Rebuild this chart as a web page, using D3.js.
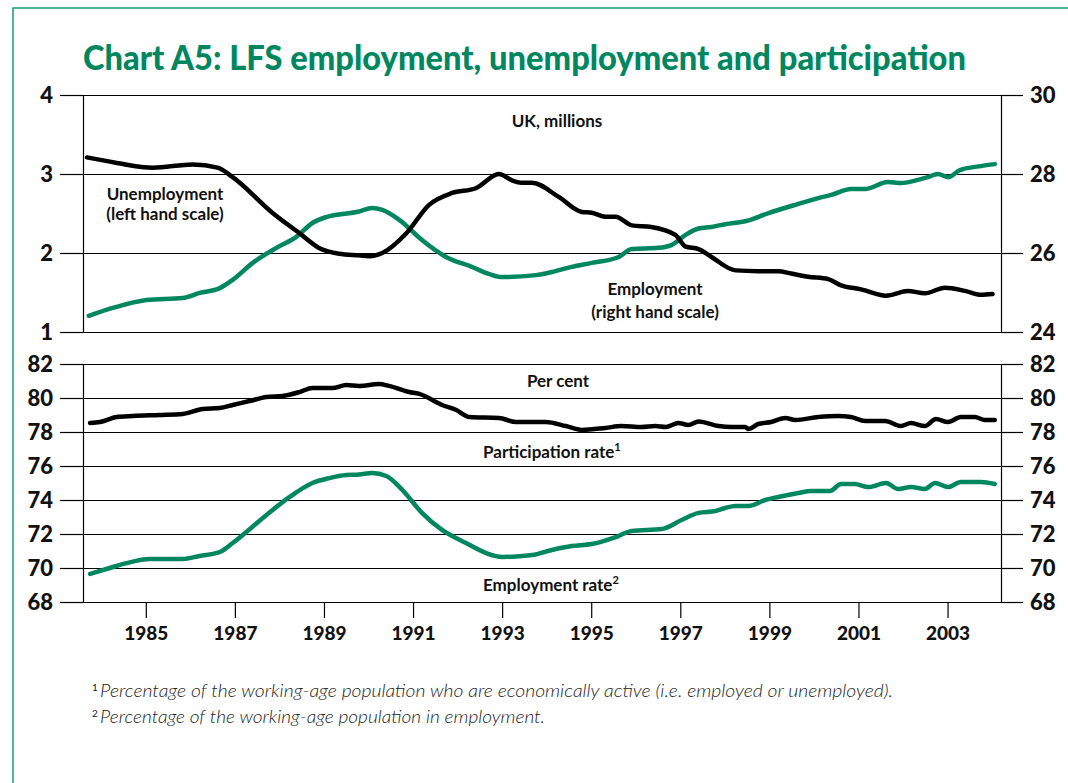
<!DOCTYPE html>
<html>
<head>
<meta charset="utf-8">
<script src="https://cdn.jsdelivr.net/npm/d3@7"></script>
<style>
  body { margin: 0; background: #fff; }
  svg { display: block; }
</style>
</head>
<body>
<script>
// DATA (decimal years)
const unempDates = [1983.68,1984.35,1985.16,1986.05,1986.61,1986.95,1987.84,1988.45,1988.90,1989.34,1989.79,1990.02,1990.31,1990.85,1991.36,1991.88,1992.41,1992.93,1993.22,1993.44,1993.67,1994.27,1994.79,1995.01,1995.32,1995.55,1995.91,1996.35,1996.89,1997.12,1997.41,1997.70,1998.24,1998.75,1999.20,1999.49,1999.87,2000.32,2000.61,2001.06,2001.62,2002.11,2002.49,2002.94,2003.39,2003.75,2004.01];
const unemployment = [3.21,3.14,3.08,3.12,3.08,2.96,2.51,2.25,2.06,1.99,1.97,1.96,2.00,2.25,2.61,2.76,2.82,3.00,2.92,2.89,2.89,2.71,2.52,2.51,2.46,2.46,2.35,2.33,2.23,2.08,2.05,1.95,1.78,1.77,1.77,1.74,1.70,1.67,1.59,1.54,1.46,1.52,1.49,1.56,1.52,1.47,1.48];

const empDates = [1983.72,1984.26,1985.02,1985.83,1986.21,1986.66,1986.95,1987.40,1987.93,1988.38,1988.74,1989.05,1989.79,1990.08,1990.31,1990.69,1991.20,1991.74,1992.32,1992.70,1993.00,1993.76,1994.12,1994.56,1995.01,1995.62,1995.91,1996.51,1996.80,1997.12,1997.41,1997.70,1998.01,1998.48,1998.98,1999.58,2000.10,2000.39,2000.83,2001.15,2001.66,2001.95,2002.40,2002.56,2002.78,2003.01,2003.28,2003.75,2004.06];
const employment = [24.41,24.61,24.81,24.86,24.99,25.11,25.32,25.75,26.13,26.41,26.76,26.91,27.05,27.14,27.09,26.84,26.33,25.90,25.65,25.47,25.39,25.44,25.52,25.65,25.75,25.90,26.10,26.13,26.20,26.46,26.62,26.66,26.73,26.81,27.01,27.22,27.39,27.47,27.62,27.62,27.80,27.77,27.87,27.92,28.00,27.92,28.10,28.20,28.25];

const partDates = [1983.75,1983.97,1984.35,1984.71,1985.31,1985.83,1986.28,1986.66,1986.95,1987.33,1987.71,1988.07,1988.45,1988.74,1989.19,1989.50,1989.79,1990.24,1990.46,1990.91,1991.14,1991.65,1991.97,1992.26,1992.93,1993.31,1993.98,1994.43,1994.79,1995.32,1995.68,1996.13,1996.44,1996.67,1996.96,1997.18,1997.41,1997.86,1998.15,1998.46,1998.53,1998.75,1999.04,1999.36,1999.58,2000.10,2000.54,2000.83,2001.15,2001.60,2001.95,2002.18,2002.49,2002.74,2003.01,2003.30,2003.61,2003.84,2004.06];
const participation = [78.53,78.59,78.88,78.94,79.00,79.06,79.35,79.41,79.59,79.82,80.06,80.12,80.35,80.59,80.59,80.76,80.71,80.82,80.71,80.35,80.24,79.59,79.29,78.88,78.82,78.59,78.59,78.35,78.12,78.24,78.35,78.29,78.35,78.29,78.53,78.41,78.62,78.35,78.29,78.29,78.18,78.47,78.59,78.82,78.71,78.88,78.94,78.88,78.65,78.65,78.35,78.53,78.35,78.76,78.59,78.88,78.88,78.71,78.71];

const rateDates = [1983.75,1984.19,1984.57,1985.09,1985.83,1986.21,1986.66,1986.95,1987.71,1988.23,1988.74,1989.12,1989.50,1989.79,1990.08,1990.40,1990.76,1991.20,1991.65,1992.19,1992.64,1993.00,1993.67,1994.12,1994.56,1995.01,1995.55,1995.91,1996.58,1997.03,1997.41,1997.79,1998.01,1998.24,1998.53,1998.91,1999.20,1999.65,1999.94,2000.36,2000.61,2000.92,2001.22,2001.62,2001.89,2002.18,2002.49,2002.72,2003.01,2003.30,2003.75,2004.06];
const employmentRate = [69.65,70.00,70.29,70.53,70.53,70.71,70.94,71.47,73.12,74.18,75.00,75.29,75.47,75.50,75.59,75.41,74.59,73.24,72.24,71.47,70.88,70.65,70.76,71.06,71.29,71.41,71.82,72.18,72.29,72.82,73.24,73.35,73.53,73.65,73.65,74.00,74.18,74.41,74.53,74.53,74.94,74.94,74.76,75.00,74.65,74.76,74.65,75.00,74.76,75.06,75.06,74.94];

const yearTicks = [1985,1987,1989,1991,1993,1995,1997,1999,2001,2003];
const unempTicks = [1,2,3,4];
const empTicks = [24,26,28,30];
const rateTicks = [68,70,72,74,76,78,80,82];

const footnotes = [
  "Percentage of the working-age population who are economically active (i.e. employed or unemployed).",
  "Percentage of the working-age population in employment."
];

const GREEN = "#00875f";
const FONT = "Lato, 'DejaVu Sans', sans-serif";

// SVG
const svg = d3.select("body").append("svg")
  .attr("width", 1068).attr("height", 783);

// GREEN FRAME
svg.append("path")
  .attr("d", "M13,790 L13,8 L1075,8")
  .attr("fill", "none").attr("stroke", "#1a9a74").attr("stroke-width", 1.5);

// TITLE
svg.append("text")
  .attr("x", 83).attr("y", 70)
  .attr("textLength", 883).attr("lengthAdjust", "spacingAndGlyphs")
  .style("font-family", FONT).style("font-weight", 900).style("font-size", "35px")
  .attr("fill", GREEN)
  .text("Chart A5: LFS employment, unemployment and participation");

// SCALES
const left = 83, right = 1001;
const x = d3.scaleLinear().domain([1983.59, 2004.2]).range([left, right]);
const yUnemp = d3.scaleLinear().domain([1, 4]).range([332, 95]);
const yEmp = d3.scaleLinear().domain([24, 30]).range([332, 95]);
const yRate = d3.scaleLinear().domain([68, 82]).range([602, 364]);

// AXES HELPER
function styleAxis(g) {
  g.selectAll("path, line").attr("stroke", "#000").attr("stroke-width", 1.2);
  g.selectAll("text").style("font-family", FONT).style("font-weight", 900)
    .style("font-size", "22px").attr("fill", "#111");
}

function panel(yL, yR, ticksL, ticksR) {
  // gridlines
  svg.append("g").attr("transform", `translate(${left},0)`)
    .call(d3.axisLeft(yL).tickValues(ticksL).tickSize(-(right - left)).tickFormat(""))
    .call(g => g.select(".domain").remove())
    .call(g => g.selectAll("line").attr("stroke", "#000").attr("stroke-width", 1));
  // left axis
  svg.append("g").attr("transform", `translate(${left},0)`)
    .call(d3.axisLeft(yL).tickValues(ticksL).tickSize(23).tickSizeOuter(0).tickPadding(7).tickFormat(d3.format("d")))
    .call(styleAxis);
  // right axis
  svg.append("g").attr("transform", `translate(${right},0)`)
    .call(d3.axisRight(yR).tickValues(ticksR).tickSize(22).tickSizeOuter(0).tickPadding(7).tickFormat(d3.format("d")))
    .call(styleAxis);
}

panel(yUnemp, yEmp, unempTicks, empTicks);
panel(yRate, yRate, rateTicks, rateTicks);

// X AXIS
svg.append("g").attr("transform", "translate(0,602)")
  .call(d3.axisBottom(x).tickValues(yearTicks).tickSize(16).tickSizeOuter(0).tickPadding(9).tickFormat(d3.format("d")))
  .call(styleAxis)
  .call(g => g.selectAll("text").style("font-size", "19px"));

// LINES
function drawLine(dates, values, y, colour) {
  const pts = dates.map((d, i) => [d, values[i]]);
  const line = d3.line().x(d => x(d[0])).y(d => y(d[1])).curve(d3.curveMonotoneX);
  svg.append("path").attr("d", line(pts))
    .attr("fill", "none").attr("stroke", colour).attr("stroke-width", 4.5)
    .attr("stroke-linejoin", "round").attr("stroke-linecap", "round");
}

drawLine(empDates, employment, yEmp, GREEN);
drawLine(unempDates, unemployment, yUnemp, "#000");
drawLine(rateDates, employmentRate, yRate, GREEN);
drawLine(partDates, participation, yRate, "#000");

// LABELS
function label(txt, xp, yp, anchor) {
  return svg.append("text").attr("x", xp).attr("y", yp)
    .attr("text-anchor", anchor || "middle")
    .style("font-family", FONT).style("font-weight", 700).style("font-size", "17px")
    .attr("fill", "#111").text(txt);
}
label("UK, millions", 557, 127);
label("Unemployment", 165, 200);
label("(left hand scale)", 165, 220);
label("Employment", 655, 295);
label("(right hand scale)", 655, 318);
label("Per cent", 558, 387);

const pr = label("Participation rate", 483, 458, "start");
pr.append("tspan").attr("dy", -7).style("font-size", "11px").text("1");
const er = label("Employment rate", 483, 591, "start");
er.append("tspan").attr("dy", -7).style("font-size", "11px").text("2");

// FOOTNOTES
const noteY = [697, 723];
const noteLen = [793, 445];
footnotes.forEach((n, i) => {
  svg.append("text").attr("x", 92).attr("y", noteY[i] - 6)
    .style("font-family", FONT).style("font-size", "10px").attr("fill", "#222")
    .text(i + 1);
  svg.append("text").attr("x", 100).attr("y", noteY[i])
    .attr("textLength", noteLen[i]).attr("lengthAdjust", "spacingAndGlyphs")
    .style("font-family", FONT).style("font-style", "italic").style("font-weight", 300)
    .style("font-size", "17.5px").attr("fill", "#222")
    .text(n);
});
</script>
</body>
</html>
